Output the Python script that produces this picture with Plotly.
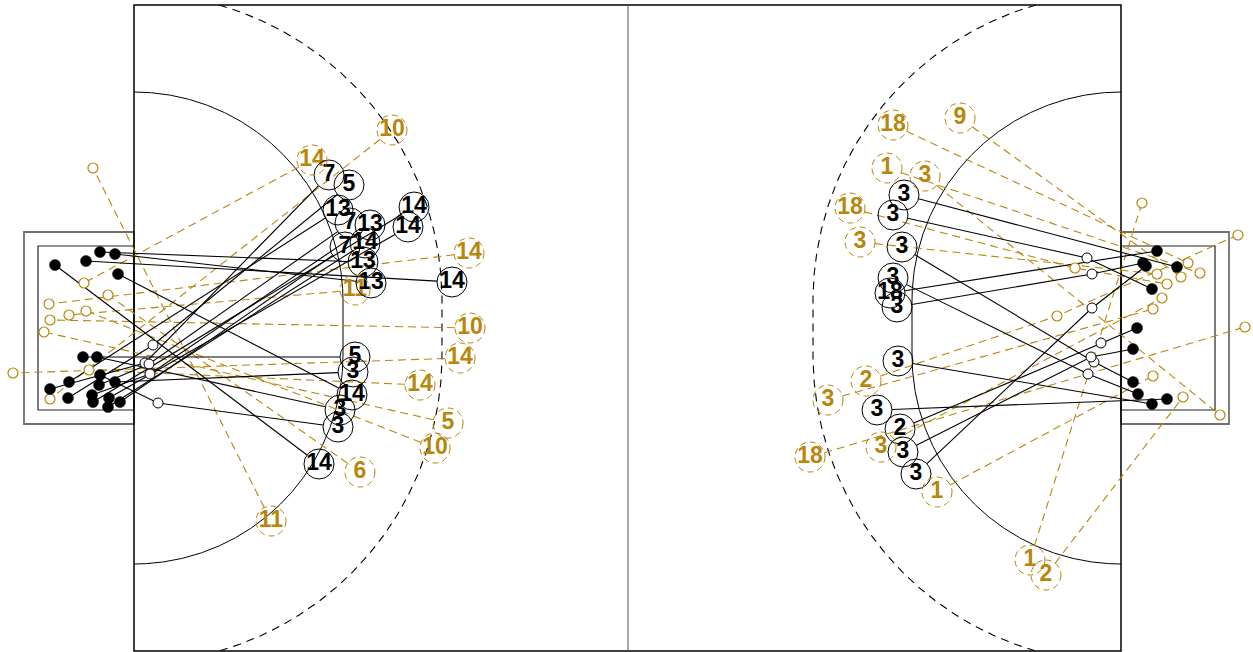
import numpy as np
import plotly.graph_objects as go

W, H = 1253, 652
GOLD = "#B8860B"
FONT = "Liberation Sans, Arial, sans-serif"

# ---------------- pitch geometry (axis units = screen px) ----------------
PITCH_X0, PITCH_X1, PITCH_Y0, PITCH_Y1 = 134, 1121, 5, 651
MID_X = 628
GOAL_Y = 328
POST_HALF = 27
CIRCLE_R = 209
DASH_R = 308
L_BOX_OUTER = (24, 232, 134, 424)
L_BOX_INNER = (38, 246, 134, 410)
R_BOX_OUTER = (1121, 232, 1229, 424)
R_BOX_INNER = (1121, 246, 1215, 410)

# ---------------- data ----------------
# Left end, black: shot spot (numbered), optional deflection (white), goal-mouth spot (black)
L_NUM = [14, 13, 13, 14, 14, 3, 3, 5, 3, 7, 5, 13, 7, 13, 14, 14, 7, 14]
L_SX = [319, 363, 371, 452, 352, 338, 353, 355, 340, 329, 349, 338, 350, 370, 414, 408, 345, 365]
L_SY = [464, 262, 283, 282, 395, 427, 372, 357, 410, 175, 185, 210, 223, 225, 207, 227, 247, 243]
L_DX = [None, None, None, None, None, 158, None, None, None, 145, 153, None, 149, 150, None, None, None, None]
L_DY = [None, None, None, None, None, 403, None, None, None, 363, 345, None, 364, 374, None, None, None, None]
L_EX = [55, 100, 115, 86, 118, 100, 115, 83, 97, 50, 68, 69, 99, 92, 93, 109, 120, 108]
L_EY = [265, 252, 254, 261, 274, 375, 382, 357, 357, 389, 398, 382, 385, 395, 402, 398, 402, 407]

# Left end, gold
LG_NUM = [14, 10, 14, 11, 10, 14, 14, 5, 10, 6, 11]
LG_SX = [312, 392, 469, 355, 470, 460, 420, 448, 435, 360, 271]
LG_SY = [160, 130, 253, 290, 328, 358, 385, 423, 448, 472, 521]
LG_DX = [None] * 11
LG_DY = [None] * 11
LG_EX = [84, 50, 49, 69, 50, 13, 89, 44, 86, 108, 93]
LG_EY = [283, 399, 304, 315, 320, 373, 370, 332, 311, 295, 168]

# Right end, black
R_NUM = [3, 3, 3, 3, 18, 3, 3, 3, 2, 3, 3]
R_SX = [904, 893, 902, 893, 890, 897, 898, 877, 900, 903, 916]
R_SY = [195, 215, 247, 278, 293, 307, 361, 410, 429, 452, 474]
R_DX = [None, 1087, 1094, 1088, None, 1092, None, None, 1101, 1091, 1092]
R_DY = [None, 258, 362, 374, None, 274, None, None, 343, 357, 308]
R_EX = [1177, 1152, 1133, 1138, 1157, 1143, 1152, 1167, 1137, 1133, 1146]
R_EY = [267, 289, 382, 394, 251, 263, 404, 399, 328, 349, 266]

# Right end, gold
RG_NUM = [18, 9, 1, 3, 18, 3, 2, 3, 3, 18, 1, 1, 2]
RG_SX = [893, 960, 887, 925, 850, 860, 866, 828, 881, 810, 937, 1030, 1046]
RG_SY = [125, 118, 168, 176, 208, 242, 381, 400, 447, 457, 492, 560, 575]
RG_DX = [None, None, None, None, 1075, None, 1057, None, None, None, None, None, None]
RG_DY = [None, None, None, None, 268, None, 316, None, None, None, None, None, None]
RG_EX = [1188, 1181, 1200, 1220, 1167, 1157, 1238, 1153, 1162, 1245, 1153, 1142, 1183]
RG_EY = [263, 277, 273, 415, 284, 274, 235, 309, 298, 327, 376, 203, 397]

BIG_R = 15  # radius of numbered circles (px)

fig = go.Figure()


def d_curve(cx, side, r, n=240):
    """Hockey shooting-circle outline: two quarter circles joined by a straight part."""
    top_c = GOAL_Y - POST_HALF
    bot_c = GOAL_Y + POST_HALF
    c0 = (top_c - PITCH_Y0) / r
    t0 = np.arccos(min(1.0, c0))
    t = np.linspace(t0, np.pi / 2, n)
    xs_top = cx + side * r * np.sin(t)
    ys_top = top_c - r * np.cos(t)
    c1 = (PITCH_Y1 - bot_c) / r
    t1 = np.arccos(min(1.0, c1))
    u = np.linspace(0, np.pi / 2 - t1, n)
    xs_bot = cx + side * r * np.cos(u)
    ys_bot = bot_c + r * np.sin(u)
    return np.concatenate([xs_top, xs_bot]), np.concatenate([ys_top, ys_bot])


for cx, side in [(PITCH_X0, 1), (PITCH_X1, -1)]:
    x, y = d_curve(cx, side, CIRCLE_R)
    fig.add_trace(go.Scatter(x=x, y=y, mode="lines", line=dict(color="black", width=1),
                             hoverinfo="skip", showlegend=False))
    x, y = d_curve(cx, side, DASH_R)
    fig.add_trace(go.Scatter(x=x, y=y, mode="lines",
                             line=dict(color="black", width=1.1, dash="8px,6px"),
                             hoverinfo="skip", showlegend=False))


def chains(sx, sy, dx, dy, ex, ey):
    xs, ys = [], []
    for i in range(len(sx)):
        pts = [(sx[i], sy[i])]
        if dx[i] is not None:
            pts.append((dx[i], dy[i]))
        pts.append((ex[i], ey[i]))
        (x0, y0), (x1, y1) = pts[0], pts[1]
        L = np.hypot(x1 - x0, y1 - y0)
        pts[0] = (x0 + (x1 - x0) * BIG_R / L, y0 + (y1 - y0) * BIG_R / L)
        for p in pts:
            xs.append(p[0])
            ys.append(p[1])
        xs.append(None)
        ys.append(None)
    return xs, ys


# gold dashed paths
for sx, sy, dx, dy, ex, ey in [(LG_SX, LG_SY, LG_DX, LG_DY, LG_EX, LG_EY),
                               (RG_SX, RG_SY, RG_DX, RG_DY, RG_EX, RG_EY)]:
    xs, ys = chains(sx, sy, dx, dy, ex, ey)
    fig.add_trace(go.Scatter(x=xs, y=ys, mode="lines",
                             line=dict(color=GOLD, width=1.1, dash="8px,5px"),
                             hoverinfo="skip", showlegend=False))

# black solid paths
for sx, sy, dx, dy, ex, ey in [(L_SX, L_SY, L_DX, L_DY, L_EX, L_EY),
                               (R_SX, R_SY, R_DX, R_DY, R_EX, R_EY)]:
    xs, ys = chains(sx, sy, dx, dy, ex, ey)
    fig.add_trace(go.Scatter(x=xs, y=ys, mode="lines",
                             line=dict(color="black", width=1.1),
                             hoverinfo="skip", showlegend=False))

# small gold circles (ends + deflections)
gx = LG_EX + RG_EX + [v for v in LG_DX + RG_DX if v is not None]
gy = LG_EY + RG_EY + [v for v in LG_DY + RG_DY if v is not None]
fig.add_trace(go.Scatter(x=gx, y=gy, mode="markers",
                         marker=dict(size=10, color="white", line=dict(color=GOLD, width=1.2)),
                         hoverinfo="skip", showlegend=False))

# white deflection dots
wx = [v for v in L_DX + R_DX if v is not None]
wy = [v for v in L_DY + R_DY if v is not None]
fig.add_trace(go.Scatter(x=wx, y=wy, mode="markers",
                         marker=dict(size=10, color="white", line=dict(color="black", width=1)),
                         hoverinfo="skip", showlegend=False))

# black goal-mouth dots
fig.add_trace(go.Scatter(x=L_EX + R_EX, y=L_EY + R_EY, mode="markers",
                         marker=dict(size=11, color="black", line=dict(color="black", width=0.5)),
                         hoverinfo="skip", showlegend=False))

# gold dashed numbered circles (pixel-sized shapes)
shapes = []
for xs_, ys_ in [(LG_SX, LG_SY), (RG_SX, RG_SY)]:
    for x, y in zip(xs_, ys_):
        shapes.append(dict(type="circle", xref="x", yref="y", xsizemode="pixel", ysizemode="pixel",
                           xanchor=x, yanchor=y, x0=-BIG_R, x1=BIG_R, y0=-BIG_R, y1=BIG_R,
                           line=dict(color=GOLD, width=1, dash="6px,4px"), layer="above"))

# gold numbers
fig.add_trace(go.Scatter(x=LG_SX + RG_SX, y=LG_SY + RG_SY, mode="text",
                         text=["<b>%d</b>" % n for n in LG_NUM + RG_NUM], textposition="middle center",
                         textfont=dict(family=FONT, size=23, color=GOLD),
                         hoverinfo="skip", showlegend=False))

# black numbered circles
fig.add_trace(go.Scatter(x=L_SX + R_SX, y=L_SY + R_SY, mode="markers+text",
                         text=["<b>%d</b>" % n for n in L_NUM + R_NUM], textposition="middle center",
                         textfont=dict(family=FONT, size=23, color="black"),
                         marker=dict(size=30, color="rgba(0,0,0,0)", line=dict(color="black", width=1)),
                         hoverinfo="skip", showlegend=False))

# pitch markings
def rect(b, color, width):
    return dict(type="rect", xref="x", yref="y", x0=b[0], y0=b[1], x1=b[2], y1=b[3],
                line=dict(color=color, width=width), fillcolor="rgba(0,0,0,0)", layer="below")

shapes += [
    rect(L_BOX_OUTER, "#707070", 1.8),
    rect(L_BOX_INNER, "#222222", 1.2),
    rect(R_BOX_OUTER, "#707070", 1.8),
    rect(R_BOX_INNER, "#222222", 1.2),
    rect((PITCH_X0, PITCH_Y0, PITCH_X1, PITCH_Y1), "black", 1.5),
    dict(type="line", xref="x", yref="y", x0=MID_X, x1=MID_X, y0=PITCH_Y0, y1=PITCH_Y1,
         line=dict(color="#555555", width=1), layer="below"),
]

fig.update_layout(
    width=W, height=H,
    margin=dict(l=0, r=0, t=0, b=0, pad=0),
    paper_bgcolor="white", plot_bgcolor="white",
    xaxis=dict(range=[0, W], visible=False, showgrid=False, zeroline=False, fixedrange=True),
    yaxis=dict(range=[H, 0], visible=False, showgrid=False, zeroline=False, fixedrange=True),
    shapes=shapes,
    hovermode=False,
    showlegend=False,
)

fig.write_html("out.html", config={"displayModeBar": False},
               post_script="document.body.style.margin='0';document.body.style.overflow='hidden';")
